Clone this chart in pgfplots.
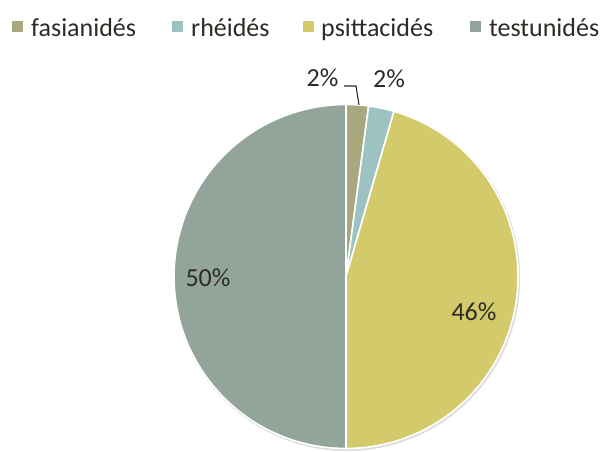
\documentclass[border=0pt]{standalone}
\usepackage{pgfplots}
\usepackage{pgfplotstable}
\pgfplotsset{compat=1.18}
\usepackage{fontspec}
\setmainfont{Carlito}

\definecolor{fasC}{HTML}{A8A77E}
\definecolor{rheC}{HTML}{9CC3C2}
\definecolor{psiC}{HTML}{D3CA6B}
\definecolor{tesC}{HTML}{93A59B}
\definecolor{txt}{HTML}{2E2B26}

% share of each family, clockwise from 12 o'clock
\pgfplotstableread{
value colour
2.1   fasC
2.4   rheC
45.5  psiC
50.0  tesC
}\pietable

\begin{document}
\begin{tikzpicture}
\begin{axis}[
    hide axis, scale only axis, clip=false,
    width=605bp, height=452bp,
    xmin=0, xmax=605, ymin=0, ymax=452,
]
    % faint shadow round the pie
    \fill[black!13] (axis cs:347,174.2) circle[radius=173.2bp];
    \def\a{90}
    \pgfplotsforeachungrouped \i in {0,...,3}{%
        \pgfplotstablegetelem{\i}{value}\of\pietable \let\v\pgfplotsretval
        \pgfplotstablegetelem{\i}{colour}\of\pietable \let\c\pgfplotsretval
        \pgfmathsetmacro\b{\a-3.6*\v}%
        \edef\tmp{\noexpand\fill[\c, draw=white, line width=1.6bp, line join=round]
            (axis cs:346,175.5) -- ++(\a:172bp)
            arc[start angle=\a, end angle=\b, radius=172bp] -- cycle;}%
        \tmp
        \let\a\b
    }

    % data labels
    \begin{scope}[every node/.style={text=txt, anchor=base, inner sep=0pt,
            font=\fontsize{26bp}{30bp}\selectfont}]
        \node at (axis cs:322.5,365.3) {2\%};
        \node at (axis cs:389,364) {2\%};
        \node at (axis cs:208,165) {50\%};
        \node at (axis cs:474,131.3) {46\%};
    \end{scope}
    \draw[txt, line width=1.1bp] (axis cs:344,366) -- (axis cs:356,366) -- (axis cs:359,347);

    % legend
    \fill[fasC] (axis cs:12,420) rectangle (axis cs:23,431);
    \fill[rheC] (axis cs:172,420) rectangle (axis cs:183,431);
    \fill[psiC] (axis cs:303,420) rectangle (axis cs:314,431);
    \fill[tesC] (axis cs:470,420) rectangle (axis cs:481,431);
    \begin{scope}[every node/.style={text=txt, anchor=base west, inner sep=0pt,
            font=\fontsize{26bp}{30bp}\selectfont}]
        \node at (axis cs:31,415.3) {fasianidés};
        \node at (axis cs:191,415.3) {rhéidés};
        \node at (axis cs:321,415.3) {psittacidés};
        \node at (axis cs:489,415.3) {testunidés};
    \end{scope}
\end{axis}
\pgfresetboundingbox
\path[use as bounding box] (0,0) rectangle (605bp,452bp);
\end{tikzpicture}
\end{document}
